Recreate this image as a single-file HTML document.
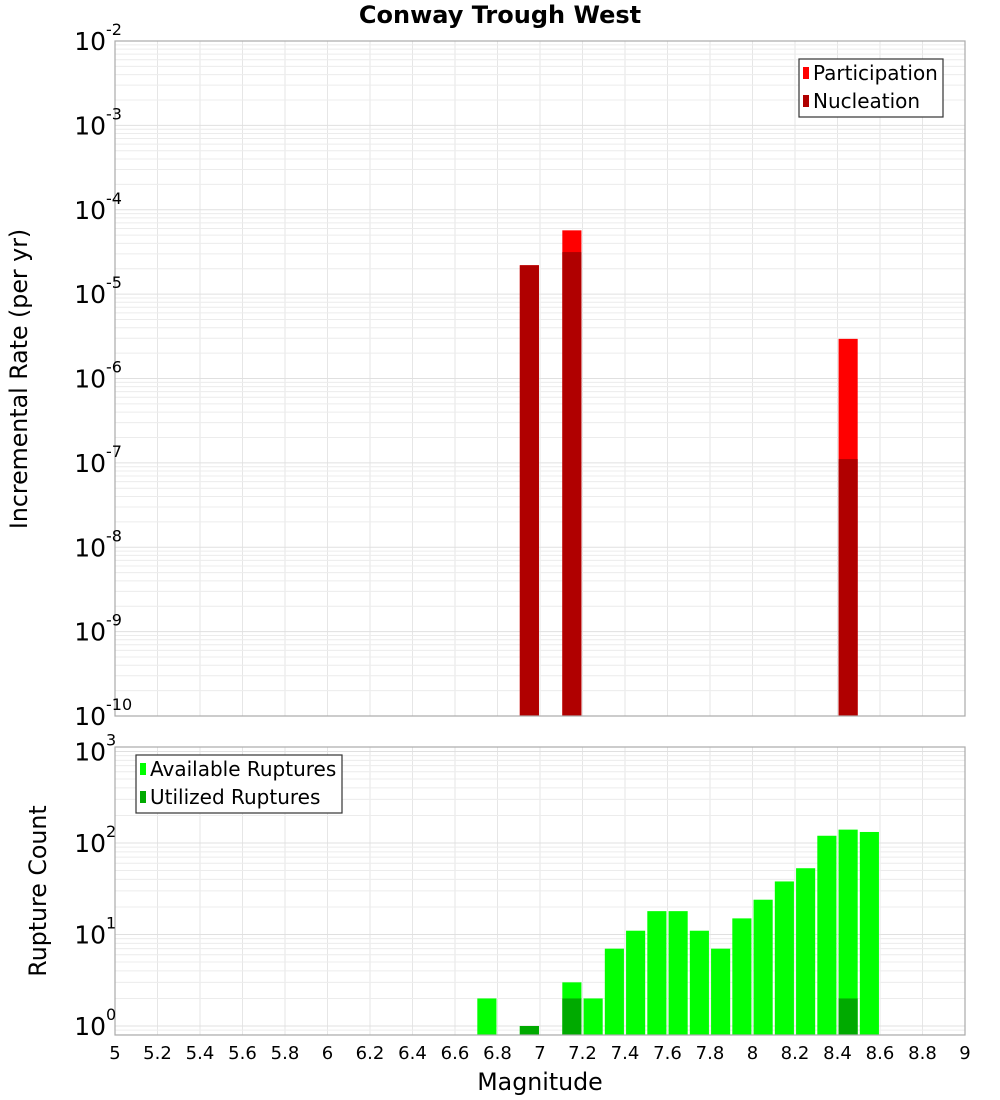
<!DOCTYPE html>
<html><head><meta charset="utf-8"><style>
html,body{margin:0;padding:0;background:#fff;}
svg{display:block;font-family:"DejaVu Sans","Liberation Sans",sans-serif;}
</style></head><body>
<svg id="chart" width="1000" height="1100" viewBox="0 0 1000 1100" xmlns="http://www.w3.org/2000/svg">
<text x="500" y="23" text-anchor="middle" font-size="24" font-weight="bold">Conway Trough West</text>
<g id="topPlot"></g>
<g id="botPlot"></g>
<text transform="translate(27,379) rotate(-90)" text-anchor="middle" font-size="23.7">Incremental Rate (per yr)</text>
<text transform="translate(46,891) rotate(-90)" text-anchor="middle" font-size="23.7">Rupture Count</text>
<text x="540" y="1090" text-anchor="middle" font-size="23.7">Magnitude</text>
<g id="legends">
<g>
<rect x="799" y="59" width="144" height="58" fill="#fff" stroke="#333" stroke-width="1.2"/>
<rect x="803" y="67" width="6" height="12" fill="#ff0000"/>
<text x="813" y="80" font-size="20">Participation</text>
<rect x="803" y="95" width="6" height="12" fill="#b00000"/>
<text x="813" y="108" font-size="20">Nucleation</text>
</g>
<g>
<rect x="136" y="755" width="206" height="58" fill="#fff" stroke="#333" stroke-width="1.2"/>
<rect x="140" y="763" width="6" height="12" fill="#00ff00"/>
<text x="150" y="776" font-size="20">Available Ruptures</text>
<rect x="140" y="791" width="6" height="12" fill="#00aa00"/>
<text x="150" y="804" font-size="20">Utilized Ruptures</text>
</g>
</g>
</svg>
<script>
const rateMags = [6.95, 7.15, 8.45];
const participation = [2.2e-5, 5.7e-5, 2.95e-6];
const nucleation = [2.2e-5, 3.15e-5, 1.11e-7];
const countMags = [6.75, 6.95, 7.15, 7.25, 7.35, 7.45, 7.55, 7.65, 7.75, 7.85, 7.95, 8.05, 8.15, 8.25, 8.35, 8.45, 8.55];
const available = [2, 1, 3, 2, 7, 11, 18, 18, 11, 7, 15, 24, 38, 53, 120, 140, 132];
const utilized = [0, 1, 2, 0, 0, 0, 0, 0, 0, 0, 0, 0, 0, 0, 0, 2, 0];
const xTicks = ["5","5.2","5.4","5.6","5.8","6","6.2","6.4","6.6","6.8","7","7.2","7.4","7.6","7.8","8","8.2","8.4","8.6","8.8","9"];
const rateExps = [-2,-3,-4,-5,-6,-7,-8,-9,-10];
const countExps = [3,2,1,0];

const NS="http://www.w3.org/2000/svg";
const PL=115,PR=965;
const xs=m=>PL+(m-5)*(PR-PL)/4;
const yTop=v=>41+(-2-Math.log10(v))*(716-41)/8;
const yBot=v=>1026-Math.log10(v)*91.5;
function mk(p,tag,a){const e=document.createElementNS(NS,tag);for(const k in a)e.setAttribute(k,a[k]);p.appendChild(e);return e;}
function grid(g,t,b,yf,lo,hi){
  mk(g,'rect',{x:PL,y:t,width:PR-PL,height:b-t,fill:'#fff'});
  for(let i=0;i<=20;i++){const x=xs(5+i*0.2);mk(g,'line',{x1:x,x2:x,y1:t,y2:b,stroke:'#e6e6e6','stroke-width':1});}
  for(let e=lo;e<=hi;e++)for(let k=1;k<10;k++){const y=yf(k*Math.pow(10,e));if(y<t||y>b)continue;mk(g,'line',{x1:PL,x2:PR,y1:y,y2:y,stroke:k==1?'#e0e0e0':'#ececec','stroke-width':1});}
}
const topG=document.getElementById('topPlot');
grid(topG,41,716,yTop,-10,-2);
const bw=0.09*(PR-PL)/4;
rateMags.forEach((m,i)=>{
  const p=mk(topG,'rect',{x:xs(m)-bw/2,y:yTop(participation[i]),width:bw,height:716-yTop(participation[i]),fill:'#ff0000'});
  
  
  const n=mk(topG,'rect',{x:xs(m)-bw/2,y:yTop(nucleation[i]),width:bw,height:716-yTop(nucleation[i]),fill:'#b00000'});
  
  
});
mk(topG,'rect',{x:PL,y:41,width:PR-PL,height:675,fill:'none',stroke:'#aaa','stroke-width':1.2});
rateExps.forEach(e=>{const y=yTop(Math.pow(10,e));const t=mk(topG,'text',{x:106,y:y+9,'text-anchor':'end','font-size':25});t.textContent='10';
  
  
  const s=mk(topG,'text',{x:106,y:y-6,'font-size':16});s.textContent=String(e);});

const botG=document.getElementById('botPlot');
grid(botG,747,1035,yBot,-1,3);
countMags.forEach((m,i)=>{
  const a=mk(botG,'rect',{x:xs(m)-bw/2,y:yBot(available[i]),width:bw,height:1035-yBot(available[i]),fill:'#00ff00'});
  
  
  if(utilized[i]>0){const u=mk(botG,'rect',{x:xs(m)-bw/2,y:yBot(utilized[i]),width:bw,height:1035-yBot(utilized[i]),fill:'#00aa00'});
  
  }
});
mk(botG,'rect',{x:PL,y:747,width:PR-PL,height:288,fill:'none',stroke:'#aaa','stroke-width':1.2});
countExps.forEach(e=>{const y=yBot(Math.pow(10,e));const t=mk(botG,'text',{x:106,y:y+9,'text-anchor':'end','font-size':25});t.textContent='10';
  
  
  const s=mk(botG,'text',{x:106,y:y-6,'font-size':16});s.textContent=String(e);});
xTicks.forEach(lbl=>{const t=mk(botG,'text',{x:xs(parseFloat(lbl)),y:1059,'text-anchor':'middle','font-size':18});t.textContent=lbl;
  
  });
const svg=document.getElementById('chart');
svg.appendChild(document.getElementById('legends'));
</script>
</body></html>
